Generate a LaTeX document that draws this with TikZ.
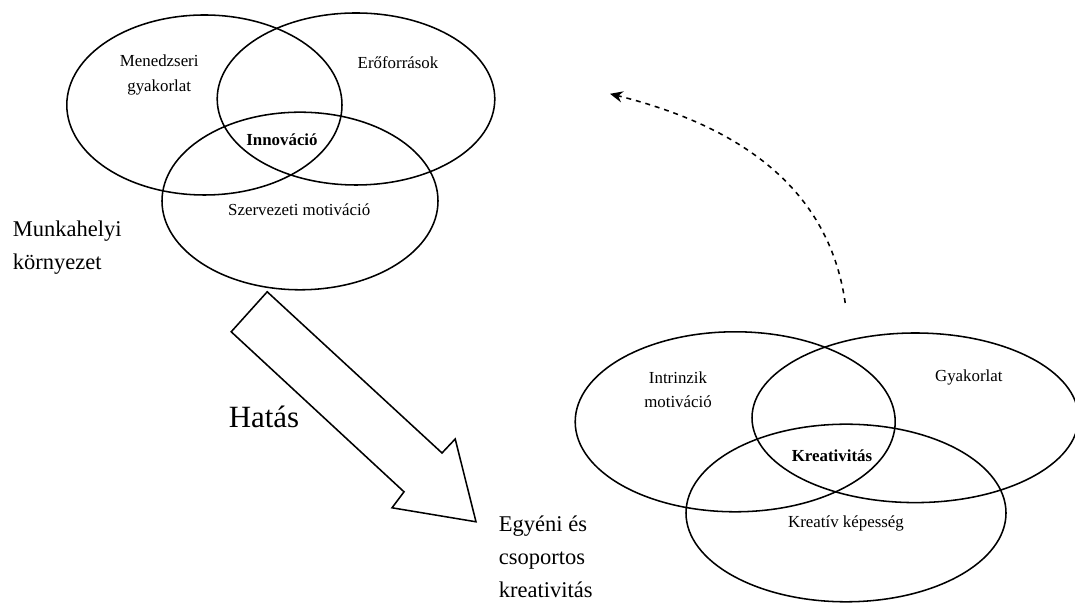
\documentclass[tikz,border=0pt]{standalone}
\usepackage{fontspec}
\setmainfont{Liberation Serif}
\usetikzlibrary{arrows.meta}

\begin{document}
\begin{tikzpicture}[
  set/.style={line width=1.1pt},
  lbl/.style={font=\fontsize{12}{17.5}\selectfont, align=center},
  big/.style={font=\fontsize{16}{23.5}\selectfont, align=left}
]

% Canvas
\useasboundingbox (0,0) rectangle (26.875,15.075);

% Upper group: workplace
\draw[set] (5.11,12.45) ellipse (3.44 and 2.25);
\draw[set] (8.9,12.6) ellipse (3.47 and 2.15);
\draw[set] (7.5,10.05) ellipse (3.45 and 2.22);

\node[lbl] (mgr) at (3.98,13.2) {Menedzseri\\gyakorlat};
\node[lbl] (res) at (9.95,13.5) {Erőforrások};
\node[lbl, font=\fontsize{12}{14}\selectfont\bfseries] (inno) at (7.05,11.58) {Innováció};
\node[lbl] (orgmot) at (7.48,9.83) {Szervezeti motiváció};
\node[big, anchor=west] (work) at (0.2,8.88) {Munkahelyi\\környezet};

% Lower group: creativity
\draw[set] (18.38,4.53) ellipse (4.0 and 2.25);
\draw[set] (22.88,4.63) ellipse (4.08 and 2.12);
\draw[set] (21.15,2.25) ellipse (4.0 and 2.22);

\node[lbl] (intr) at (16.95,5.33) {Intrinzik\\motiváció};
\node[lbl] (prac) at (24.22,5.63) {Gyakorlat};
\node[lbl, font=\fontsize{12}{14}\selectfont\bfseries] (krea) at (20.8,3.68) {Kreativitás};
\node[lbl] (abil) at (21.15,1.98) {Kreatív képesség};
\node[big, anchor=west] (indiv) at (12.35,1.15) {Egyéni és\\csoportos\\kreativitás};

% Hollow block arrow
\draw[set] (5.78,6.78) -- (6.68,7.78) -- (11.05,3.75) -- (11.38,4.1)
  -- (11.9,2.03) -- (9.8,2.38) -- (10.1,2.78) -- cycle;
\node[font=\fontsize{22}{26}\selectfont] (hatas) at (6.6,4.65) {Hatás};

% Dashed feedback arrow
\coordinate (fbstart) at (21.13,7.5);
\coordinate (fbend) at (15.25,12.73);
\draw[line width=1.1pt, dash pattern=on 3.5pt off 3.5pt,
  -{Stealth[length=9pt, width=8pt, inset=3pt]}]
  (fbstart) to[out=98, in=-14] (fbend);

\end{tikzpicture}
\end{document}
